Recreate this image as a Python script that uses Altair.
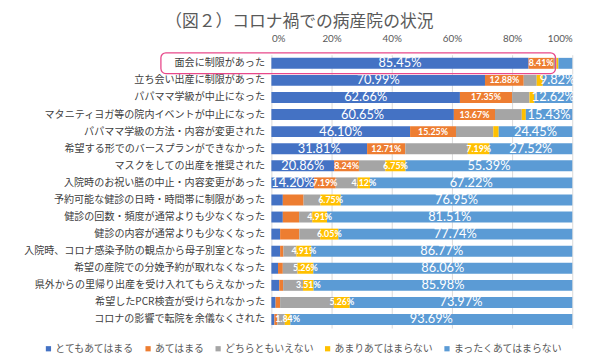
import altair as alt
import pandas as pd

categories = [
    "面会に制限があった",
    "立ち会い出産に制限があった",
    "パパママ学級が中止になった",
    "マタニティヨガ等の院内イベントが中止になった",
    "パパママ学級の方法・内容が変更された",
    "希望する形でのバースプランができなかった",
    "マスクをしての出産を推奨された",
    "入院時のお祝い膳の中止・内容変更があった",
    "予約可能な健診の日時・時間帯に制限があった",
    "健診の回数・頻度が通常よりも少なくなった",
    "健診の内容が通常よりも少なくなった",
    "入院時、コロナ感染予防の観点から母子別室となった",
    "希望の産院での分娩予約が取れなくなった",
    "県外からの里帰り出産を受け入れてもらえなかった",
    "希望したPCR検査が受けられなかった",
    "コロナの影響で転院を余儀なくされた",
]

series = ["とてもあてはまる", "あてはまる", "どちらともいえない", "あまりあてはまらない", "まったくあてはまらない"]
colors = ["#4472C4", "#ED7D31", "#A5A5A5", "#FFC000", "#5B9BD5"]

v_very = [85.45, 70.99, 62.66, 60.65, 46.10, 31.81, 20.86, 14.20, 3.80, 3.80, 2.90, 2.90, 2.20, 2.60, 1.40, 1.00]
v_yes = [8.41, 12.88, 17.35, 13.67, 15.25, 12.71, 8.24, 7.19, 6.90, 5.40, 6.40, 1.10, 1.60, 1.30, 1.50, 1.00]
v_neutral = [0.88, 4.31, 5.77, 8.90, 12.40, 20.77, 8.76, 7.27, 5.60, 4.38, 6.91, 4.32, 4.88, 6.61, 17.87, 2.47]
v_notmuch = [0.66, 2.00, 1.60, 1.35, 1.80, 7.19, 6.75, 4.12, 6.75, 4.91, 6.05, 4.91, 5.26, 3.51, 5.26, 1.84]
v_notatall = [4.60, 9.82, 12.62, 15.43, 24.45, 27.52, 55.39, 67.22, 76.95, 81.51, 77.74, 86.77, 86.06, 85.98, 73.97, 93.69]

# which segments carry a printed data label
lab_very = [1] * 8 + [0] * 8
lab_yes = [1] * 8 + [0] * 8
lab_neutral = [0] * 16
lab_notmuch = [0] * 5 + [1] * 11
lab_notatall = [0] + [1] * 15

values = [v_very, v_yes, v_neutral, v_notmuch, v_notatall]
labels = [lab_very, lab_yes, lab_neutral, lab_notmuch, lab_notatall]

rows = []
for i, cat in enumerate(categories):
    start = 0.0
    for s in range(5):
        v = values[s][i]
        rows.append({
            "cat": cat, "series": series[s], "order": s, "value": v,
            "start": start, "end": start + v, "mid": start + v / 2,
            "show": labels[s][i], "label": f"{v:.2f}%",
            "big": 1 if s in (0, 4) else 0,
        })
        start += v
df = pd.DataFrame(rows)

num_font = "Lato"
jp_font = "Noto Sans CJK JP"

y_enc = alt.Y("cat:N", sort=categories, title=None,
              scale=alt.Scale(paddingInner=0.36, paddingOuter=0.18),
              axis=alt.Axis(labelFont=jp_font, labelFontSize=10.2, labelColor="#404040",
                            ticks=False, domain=False, labelPadding=7, labelLimit=400))

base = alt.Chart(df)

bars = base.mark_bar().encode(
    x=alt.X("start:Q", title=None, scale=alt.Scale(domain=[0, 100], nice=False),
            axis=alt.Axis(orient="top", values=[0, 20, 40, 60, 80, 100], labelExpr="datum.value + '%'",
                          grid=True, gridColor="#D9D9D9", ticks=False, domain=False,
                          labelFont=num_font, labelFontSize=10, labelColor="#595959", labelPadding=11)),
    x2="end:Q",
    y=y_enc,
    color=alt.Color("series:N", sort=series, scale=alt.Scale(domain=series, range=colors),
                    legend=alt.Legend(title=None, orient="none", direction="horizontal",
                                      legendX=-231, legendY=293, symbolType="square", symbolSize=28,
                                      symbolStrokeWidth=0, labelFont=jp_font, labelFontSize=10,
                                      labelColor="#595959", labelOffset=2, columnPadding=9)),
    order=alt.Order("order:Q"),
)

big_text = base.transform_filter("datum.show == 1 && datum.big == 1").mark_text(
    font=num_font, fontSize=13, color="white"
).encode(x="mid:Q", y=alt.Y("cat:N", sort=categories), text="label:N")

small_text = base.transform_filter("datum.show == 1 && datum.big == 0").mark_text(
    font=num_font, fontSize=9, fontWeight="bold", color="white"
).encode(x="mid:Q", y=alt.Y("cat:N", sort=categories), text="label:N")

box = alt.Chart(pd.DataFrame({"k": [0]})).mark_rect(
    filled=False, stroke="#E8488A", strokeWidth=1.3, cornerRadius=5
).encode(x=alt.value(-112), x2=alt.value(288), y=alt.value(-2), y2=alt.value(19))

chart = alt.layer(bars, big_text, small_text, box).properties(
    width=305, height=277,
    title=alt.TitleParams("（図２）コロナ禍での病産院の状況", font=jp_font, fontSize=17,
                          fontWeight="normal", color="#595959", anchor="middle", frame="bounds", offset=3),
    autosize=alt.AutoSizeParams(type="none"),
    padding={"left": 267, "top": 45, "right": 20, "bottom": 32},
).configure_view(stroke=None)

chart.save("out.html", embed_options={"renderer": "svg", "actions": False})
